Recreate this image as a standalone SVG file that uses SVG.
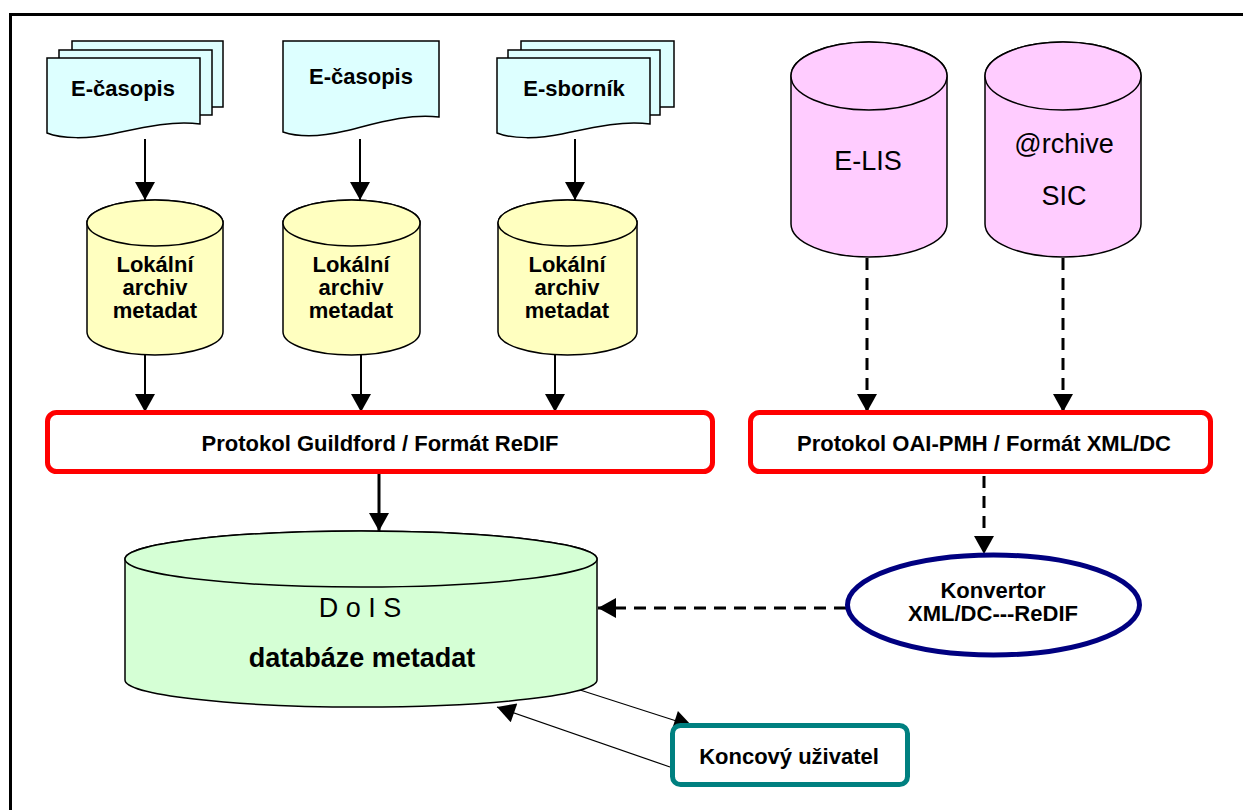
<svg xmlns="http://www.w3.org/2000/svg" width="1243" height="810" viewBox="0 0 1243 810">
<style>
.doc{fill:#DDFFFF;stroke:#000;stroke-width:1.5}
.ycyl{fill:#FFFFC0;stroke:#000;stroke-width:1.5}
.pcyl{fill:#FFCCFF;stroke:#000;stroke-width:1.5}
.gcyl{fill:#D5FFD5;stroke:#000;stroke-width:1.5}
.lbl{font-family:"Liberation Sans",Arial,sans-serif;font-weight:bold;font-size:22px;fill:#000;text-anchor:middle}
.big{font-family:"Liberation Sans",Arial,sans-serif;font-size:27px;fill:#000;text-anchor:middle}
.solid{stroke:#000;stroke-width:2;fill:none}
.dash{stroke:#000;stroke-width:3;fill:none;stroke-dasharray:12 8}
.thin{stroke:#000;stroke-width:1.2;fill:none}
</style>
<defs>
<marker id="ah" markerUnits="userSpaceOnUse" markerWidth="20" markerHeight="20" refX="18" refY="10" orient="auto" viewBox="0 0 18 20">
<path d="M0,0 L18,10 L0,20 Z" fill="#000"/>
</marker>
</defs>
<g id="frame">
<line x1="9" y1="14.5" x2="1243" y2="14.5" stroke="#000" stroke-width="3"/>
<line x1="10.5" y1="13" x2="10.5" y2="810" stroke="#000" stroke-width="3"/>
</g>
<g id="connectors">
<line class="solid" x1="145" y1="139" x2="145" y2="200" marker-end="url(#ah)"/>
<line class="solid" x1="360" y1="139" x2="360" y2="200" marker-end="url(#ah)"/>
<line class="solid" x1="575" y1="139" x2="575" y2="200" marker-end="url(#ah)"/>
<line class="solid" x1="145" y1="355" x2="145" y2="412" marker-end="url(#ah)"/>
<line class="solid" x1="361" y1="355" x2="361" y2="412" marker-end="url(#ah)"/>
<line class="solid" x1="555" y1="355" x2="555" y2="412" marker-end="url(#ah)"/>
<line class="dash" x1="867" y1="258" x2="867" y2="412" marker-end="url(#ah)"/>
<line class="dash" x1="1063" y1="258" x2="1063" y2="412" marker-end="url(#ah)"/>
<line stroke="#000" stroke-width="3" x1="379" y1="474" x2="379" y2="531" marker-end="url(#ah)"/>
<line class="dash" x1="984" y1="476" x2="984" y2="554" marker-end="url(#ah)"/>
<line class="dash" x1="846" y1="608" x2="598" y2="608" marker-end="url(#ah)"/>
<line class="thin" x1="580" y1="690" x2="692" y2="726" marker-end="url(#ah)"/>
<line class="thin" x1="670" y1="767" x2="497" y2="707" marker-end="url(#ah)"/>
</g>
<g id="doc1">
<rect class="doc" x="72" y="41" width="151" height="66"/>
<rect class="doc" x="59" y="50" width="153" height="65"/>
<path class="doc" d="M47,58 H200 V124 C172,120 140,128 112,134 C88,139 62,139 47,133 Z"/>
<text class="lbl" x="123" y="96">E-časopis</text>
</g>
<g id="doc2">
<path class="doc" d="M283,41 H439 V117 C408,113 374,124 345,131 C320,137 298,137 283,132 Z"/>
<text class="lbl" x="361" y="84">E-časopis</text>
</g>
<g id="doc3">
<rect class="doc" x="521" y="41" width="153" height="66"/>
<rect class="doc" x="508" y="50" width="152" height="65"/>
<path class="doc" d="M497,58 H650 V124 C622,120 590,128 562,134 C538,139 512,139 497,133 Z"/>
<text class="lbl" x="574" y="96">E-sborník</text>
</g>
<g id="cyl1">
<path class="ycyl" d="M87,223 V332 A68,23 0 0 0 223,332 V223 A68,23 0 0 0 87,223 Z"/>
<ellipse class="ycyl" cx="155" cy="223" rx="68" ry="23"/>
<text class="lbl" x="155" y="272">Lokální</text>
<text class="lbl" x="155" y="295">archiv</text>
<text class="lbl" x="155" y="318">metadat</text>
</g>
<g id="cyl2">
<path class="ycyl" d="M283,223 V332 A68.5,23 0 0 0 420,332 V223 A68.5,23 0 0 0 283,223 Z"/>
<ellipse class="ycyl" cx="351.5" cy="223" rx="68.5" ry="23"/>
<text class="lbl" x="351" y="272">Lokální</text>
<text class="lbl" x="351" y="295">archiv</text>
<text class="lbl" x="351" y="318">metadat</text>
</g>
<g id="cyl3">
<path class="ycyl" d="M498,223 V332 A69.5,23 0 0 0 637,332 V223 A69.5,23 0 0 0 498,223 Z"/>
<ellipse class="ycyl" cx="567.5" cy="223" rx="69.5" ry="23"/>
<text class="lbl" x="567" y="272">Lokální</text>
<text class="lbl" x="567" y="295">archiv</text>
<text class="lbl" x="567" y="318">metadat</text>
</g>
<g id="elis">
<path class="pcyl" d="M791,76 V224 A78,33 0 0 0 947,224 V76 A78,34 0 0 0 791,76 Z"/>
<ellipse class="pcyl" cx="869" cy="76" rx="78" ry="34"/>
<text class="big" x="868" y="170">E-LIS</text>
</g>
<g id="sic">
<path class="pcyl" d="M985,76 V224 A78,33 0 0 0 1141,224 V76 A78,34 0 0 0 985,76 Z"/>
<ellipse class="pcyl" cx="1063" cy="76" rx="78" ry="34"/>
<text class="big" x="1064" y="153">@rchive</text>
<text class="big" x="1064" y="205">SIC</text>
</g>
<g id="guildford">
<rect x="47.5" y="412.5" width="665" height="59" rx="9" fill="#fff" stroke="#FF0000" stroke-width="5"/>
<text class="lbl" x="380" y="451">Protokol Guildford / Formát ReDIF</text>
</g>
<g id="oai">
<rect x="750.5" y="412.5" width="460" height="59" rx="9" fill="#fff" stroke="#FF0000" stroke-width="5"/>
<text class="lbl" x="984" y="451">Protokol OAI-PMH / Formát XML/DC</text>
</g>
<g id="dois">
<path class="gcyl" d="M125,559 V680 A236,27 0 0 0 597,680 V559 A236,28 0 0 0 125,559 Z"/>
<ellipse class="gcyl" cx="361" cy="559" rx="236" ry="28"/>
<text class="big" x="360" y="617">D o I S</text>
<text class="big" x="362" y="667" font-weight="bold">databáze metadat</text>
</g>
<g id="konvertor">
<ellipse cx="993.5" cy="605" rx="146" ry="50" fill="#fff" stroke="#000080" stroke-width="5"/>
<text class="lbl" x="993" y="598">Konvertor</text>
<text class="lbl" x="993" y="621">XML/DC---ReDIF</text>
</g>
<g id="user">
<rect x="672.5" y="725.5" width="235" height="59" rx="8" fill="#fff" stroke="#008080" stroke-width="5"/>
<text class="lbl" x="789" y="764">Koncový uživatel</text>
</g>
</svg>
